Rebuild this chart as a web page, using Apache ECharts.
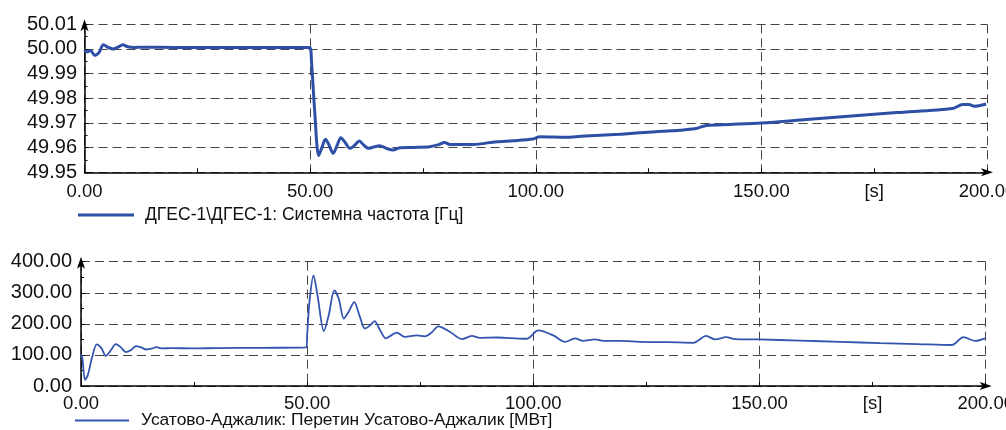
<!DOCTYPE html>
<html><head><meta charset="utf-8">
<script src="https://cdn.jsdelivr.net/npm/echarts@6/dist/echarts.min.js"></script>
<style>html,body{margin:0;padding:0;background:#fff}#c{width:1006px;height:430px}</style>
</head><body><div id="c"></div><script>
// ---- data ----
const freqName = 'ДГЕС-1\\ДГЕС-1: Системна частота [Гц]';
const powName = 'Усатово-Аджалик: Перетин Усатово-Аджалик [МВт]';
const freqT = [0, 0.7, 1.3, 2.3, 3.2, 4.2, 5.3, 6.4, 7.5, 8.5, 9.6, 11, 13, 20, 30, 40, 49.9, 50.3, 51, 51.9, 52.6, 53.4, 54.2, 55.1, 56, 56.8, 57.8, 58.8, 59.9, 60.9, 61.9, 62.9, 64.2, 65.4, 66.9, 68.4, 69.9, 73, 76.5, 78.5, 79.8, 80.9, 86.1, 91.3, 95, 99.4, 100.9, 106.8, 110, 118.6, 123, 130, 135.6, 137.8, 143, 150, 160, 170, 180, 192.4, 194.6, 196, 197.2, 199.8];
const freqV = [49.9995, 49.9988, 49.9994, 49.9974, 49.9985, 50.0017, 50.0006, 50.0000, 50.0008, 50.0017, 50.0009, 50.0006, 50.0007, 50.0006, 50.0006, 50.0006, 50.0006, 49.995, 49.975, 49.9567, 49.960, 49.9634, 49.961, 49.9577, 49.961, 49.964, 49.962, 49.9597, 49.961, 49.9627, 49.961, 49.9597, 49.9603, 49.9608, 49.9597, 49.959, 49.960, 49.9601, 49.9604, 49.9612, 49.9621, 49.9613, 49.9613, 49.9624, 49.9628, 49.9635, 49.9644, 49.9642, 49.9646, 49.9654, 49.9660, 49.9668, 49.9678, 49.9690, 49.9694, 49.9700, 49.9714, 49.9728, 49.9742, 49.9759, 49.9775, 49.9775, 49.9768, 49.9777];
const powT = [0, 0.3, 0.9, 1.5, 2.5, 3.5, 4.5, 5.5, 6.6, 7.7, 8.8, 9.9, 11, 12.2, 13.3, 14.5, 15.6, 16.7, 18, 20, 25, 30, 40, 49.8, 50.0, 50.5, 51.4, 52.3, 53.7, 54.8, 56, 57, 58.1, 59.2, 60.4, 61.6, 62.8, 63.9, 64.9, 66.1, 67.4, 68.6, 69.8, 71.6, 74.2, 76, 77.5, 79, 81.6, 84.2, 86.4, 88.2, 91.9, 95, 98.5, 101.1, 104.4, 107, 109.2, 111, 113.6, 115.5, 119.2, 123.6, 130, 135.4, 138.2, 140.2, 142.6, 144.6, 149.7, 159, 168, 176.7, 185, 192.5, 195.1, 197.7, 199.9];
const powV = [102, 89, 20, 35, 95, 134, 122, 97, 115, 135, 125, 109, 115, 128, 124, 117.5, 120, 125, 121, 122, 121, 122, 123, 124, 165, 270, 356, 290, 177, 230, 308, 280, 217, 240, 270, 225, 185, 195, 209, 180, 153, 163, 172, 158, 163, 160, 172, 192, 174, 151, 161, 155, 156, 154, 152, 179, 163, 142, 153, 145, 150, 145, 145, 142, 141, 139, 161, 150, 157, 151, 150, 146, 142, 138, 135, 132, 157, 145, 153];
const xLabels = {0: '0.00', 50: '50.00', 100: '100.00', 150: '150.00', 175: '[s]', 200: '200.00'};

// ---- chart ----
const FONT = "'Liberation Sans', Arial, sans-serif";
const gridCol = '#444';
const lineCol = '#2d4fa6';
const pair = (t, v) => t.map((x, i) => [x, v[i]]);

function xAxisCfg(gi, fs, mg) {
  return {
    type: 'value', gridIndex: gi, min: 0, max: 200, interval: 25,
    axisLine: { show: true, lineStyle: { color: '#000', width: 1.5 }, symbol: ['none', 'arrow'], symbolSize: [6, 12], symbolOffset: [0, 6] },
    axisTick: { show: true, inside: true, length: 4, lineStyle: { color: '#000' } },
    axisLabel: { formatter: v => (xLabels[v] !== undefined ? xLabels[v] : ''), color: '#111', fontFamily: FONT, fontSize: fs, margin: mg, showMinLabel: true, showMaxLabel: true, hideOverlap: false },
    splitLine: { show: true, lineStyle: { color: [gridCol, 'rgba(0,0,0,0)'], type: [9, 5], width: 1 } }
  };
}
function yAxisCfg(gi, min, max, itv, fs, off, mg) {
  return {
    type: 'value', gridIndex: gi, min: min, max: max, interval: itv, offset: off,
    axisLine: { show: true, lineStyle: { color: '#000', width: 1.5 }, symbol: ['none', 'arrow'], symbolSize: [6, 12], symbolOffset: [0, 5] },
    axisTick: { show: true, inside: true, length: 4, lineStyle: { color: '#000' } },
    minorTick: { show: true, splitNumber: 2, length: 3, lineStyle: { color: '#000' } },
    axisLabel: { formatter: v => v.toFixed(2), color: '#111', fontFamily: FONT, fontSize: fs, margin: mg, showMinLabel: true, showMaxLabel: true },
    splitLine: { show: true, lineStyle: { color: gridCol, type: [9, 5], width: 1 } }
  };
}

const chart = echarts.init(document.getElementById('c'), null, { renderer: 'canvas' });
chart.setOption({
  animation: false,
  backgroundColor: '#fff',
  grid: [
    { left: 84.5, right: 19, top: 24.3, height: 148, outerBoundsMode: 'none', containLabel: false },
    { left: 81, right: 20.3, top: 261.7, height: 124.3, outerBoundsMode: 'none', containLabel: false }
  ],
  xAxis: [xAxisCfg(0, 18.5, 10), xAxisCfg(1, 18.5, 8)],
  yAxis: [yAxisCfg(0, 49.95, 50.01, 0.01, 20, 4.5, 3), yAxisCfg(1, 0, 400, 100, 20, 5, 4)],
  legend: [
    { data: [freqName], left: 78, top: 206, padding: 0, icon: 'rect', itemWidth: 56, itemHeight: 3,
      textStyle: { color: '#111', fontFamily: FONT, fontSize: 17.5, padding: [0, 0, 0, 6] } },
    { data: [powName], left: 75, top: 412, padding: 0, icon: 'rect', itemWidth: 54, itemHeight: 2,
      textStyle: { color: '#111', fontFamily: FONT, fontSize: 17.4, padding: [0, 0, 0, 7] } }
  ],
  series: [
    { name: freqName, type: 'line', xAxisIndex: 0, yAxisIndex: 0, data: pair(freqT, freqV), showSymbol: false, smooth: 0.3,
      lineStyle: { color: lineCol, width: 3 }, itemStyle: { color: lineCol } },
    { name: powName, type: 'line', xAxisIndex: 1, yAxisIndex: 1, data: pair(powT, powV), showSymbol: false, smooth: 0.3,
      lineStyle: { color: '#3355b0', width: 1.8 }, itemStyle: { color: '#3355b0' } }
  ]
});
</script></body></html>
